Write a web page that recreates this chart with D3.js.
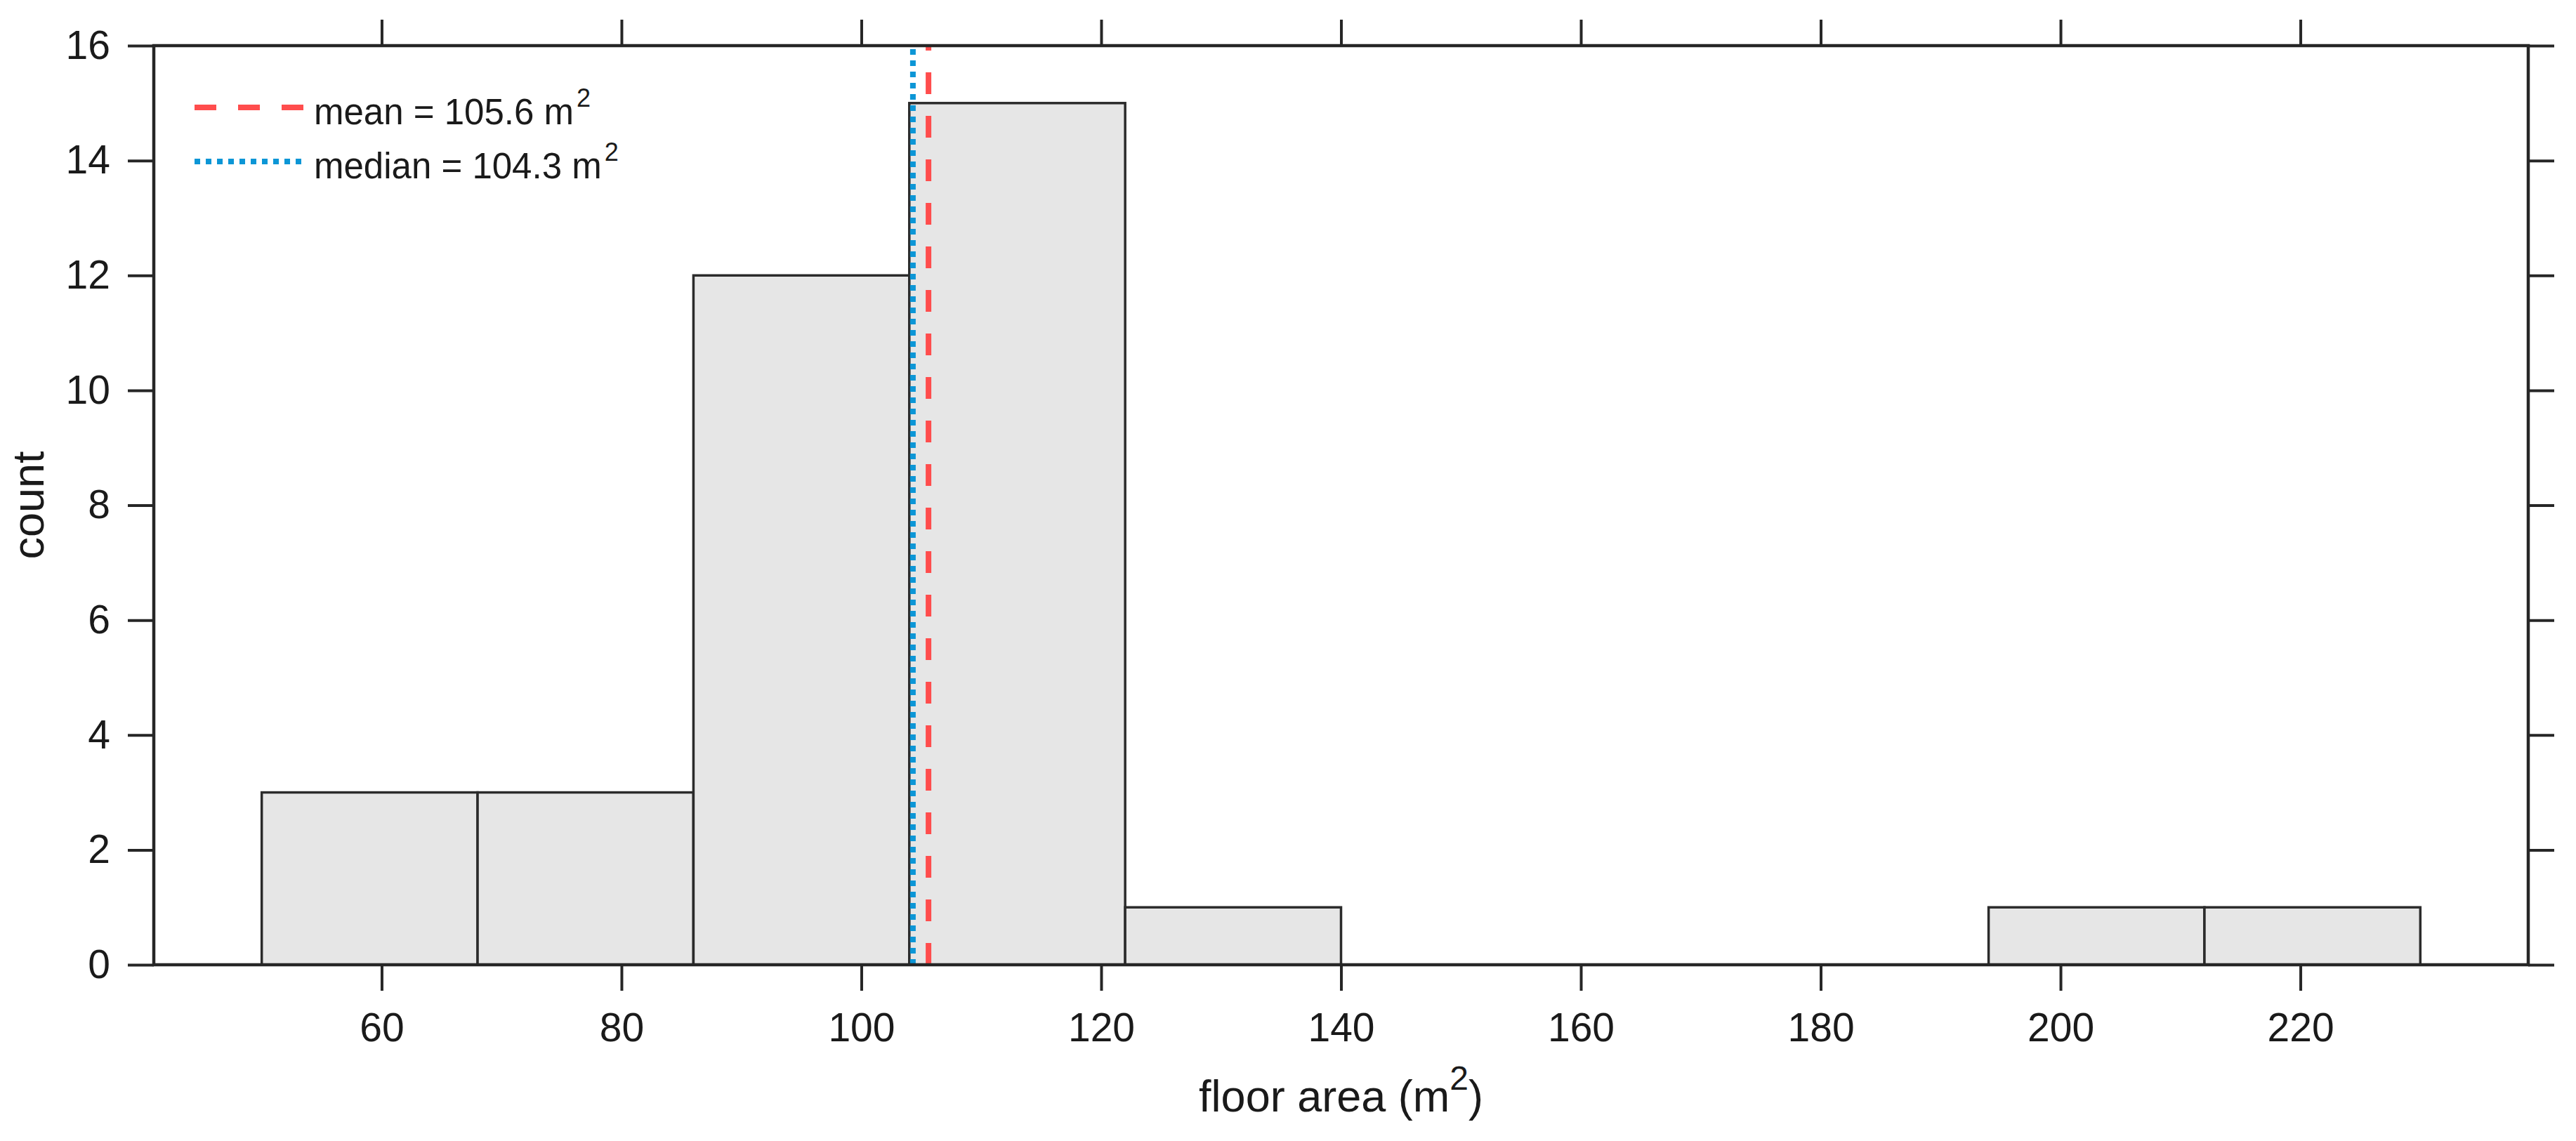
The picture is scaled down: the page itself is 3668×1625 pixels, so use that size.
<!DOCTYPE html>
<html>
<head>
<meta charset="utf-8">
<script src="https://cdn.jsdelivr.net/npm/d3@7"></script>
<style>
  body { margin: 0; background: #fff; }
  text { font-family: "Liberation Sans", Arial, sans-serif; fill: #1a1a1a; }
</style>
</head>
<body>
<div id="chart"></div>
<script>
// histogram bins (floor area, m^2) and counts
var binEdges = [50, 68, 86, 104, 122, 140, 158, 176, 194, 212, 230];
var counts = [3, 3, 12, 15, 1, 0, 0, 0, 1, 1];
var xTicks = [60, 80, 100, 120, 140, 160, 180, 200, 220];
var yTicks = [0, 2, 4, 6, 8, 10, 12, 14, 16];
var refLines = [
    {name: "mean", value: 105.6, color: "#ff4d4d", dash: "31,31"},
    {name: "median", value: 104.3, color: "#0c96d6", dash: "8,8"}
];

var width = 3668, height = 1625;
var margin = {top: 65, right: 68, bottom: 251, left: 219};
var axisColor = "#262626";

var svg = d3.select("#chart").append("svg")
    .attr("width", width)
    .attr("height", height);

var x = d3.scaleLinear()
    .domain([41, 239])
    .range([margin.left, width - margin.right]);

var y = d3.scaleLinear()
    .domain([0, 16])
    .range([height - margin.bottom, margin.top]);

var bins = counts.map(function(c, i) {
    return {x0: binEdges[i], x1: binEdges[i + 1], count: c};
});

// bars
svg.append("g").selectAll("rect")
    .data(bins.filter(function(d) { return d.count > 0; }))
    .enter().append("rect")
    .attr("x", function(d) { return x(d.x0); })
    .attr("y", function(d) { return y(d.count); })
    .attr("width", function(d) { return x(d.x1) - x(d.x0); })
    .attr("height", function(d) { return y(0) - y(d.count); })
    .style("fill", "#e6e6e6")
    .style("stroke", "#2b2b2b")
    .style("stroke-width", 3.5);

// mean / median lines
svg.append("g").selectAll("line")
    .data(refLines)
    .enter().append("line")
    .attr("x1", function(d) { return x(d.value); })
    .attr("x2", function(d) { return x(d.value); })
    .attr("y1", y(0))
    .attr("y2", y(16))
    .style("stroke", function(d) { return d.color; })
    .style("stroke-width", 8)
    .style("stroke-dasharray", function(d) { return d.dash; });

// axes
function styleAxis(g) {
    g.select(".domain").remove();
    g.selectAll(".tick line").style("stroke", axisColor).style("stroke-width", 4);
    g.selectAll(".tick text").style("font-size", "57px").style("fill", "#1a1a1a")
        .style("font-family", "'Liberation Sans', Arial, sans-serif");
}

svg.append("g")
    .attr("transform", "translate(0," + y(0) + ")")
    .call(d3.axisBottom(x).tickValues(xTicks).tickSize(37).tickPadding(32).tickSizeOuter(0))
    .call(styleAxis);

svg.append("g")
    .attr("transform", "translate(0," + y(16) + ")")
    .call(d3.axisTop(x).tickValues(xTicks).tickSize(37).tickFormat("").tickSizeOuter(0))
    .call(styleAxis);

svg.append("g")
    .attr("transform", "translate(" + x(41) + ",0)")
    .call(d3.axisLeft(y).tickValues(yTicks).tickSize(37).tickPadding(25).tickSizeOuter(0))
    .call(styleAxis);

svg.append("g")
    .attr("transform", "translate(" + x(239) + ",0)")
    .call(d3.axisRight(y).tickValues(yTicks).tickSize(37).tickFormat("").tickSizeOuter(0))
    .call(styleAxis);

// panel frame
svg.append("rect")
    .attr("x", x(41))
    .attr("y", y(16))
    .attr("width", x(239) - x(41))
    .attr("height", y(0) - y(16))
    .style("fill", "none")
    .style("stroke", axisColor)
    .style("stroke-width", 4.5);

// legend
var legend = svg.append("g").selectAll("g")
    .data(refLines)
    .enter().append("g")
    .attr("transform", function(d, i) { return "translate(277," + (153 + i * 77) + ")"; });

legend.append("line")
    .attr("x1", 0)
    .attr("x2", function(d) { return d.name === "mean" ? 159 : 152; })
    .style("stroke", function(d) { return d.color; })
    .style("stroke-width", 8)
    .style("stroke-dasharray", function(d) { return d.dash; });

var legendText = legend.append("text")
    .attr("x", 170)
    .attr("y", 24)
    .style("font-size", "51px");
legendText.append("tspan")
    .text(function(d) { return d.name + " = " + d.value.toFixed(1) + " m"; });
legendText.append("tspan")
    .attr("dx", 4)
    .attr("dy", -25)
    .style("font-size", "36px")
    .text("2");

// axis labels
var xlab = svg.append("text")
    .attr("x", (x(41) + x(239)) / 2)
    .attr("y", 1583)
    .attr("text-anchor", "middle")
    .style("font-size", "63px");
xlab.append("tspan").text("floor area (m");
xlab.append("tspan").attr("dy", -31).style("font-size", "48px").text("2");
xlab.append("tspan").attr("dy", 31).text(")");

svg.append("text")
    .attr("transform", "translate(62," + (y(0) + y(16)) / 2 + ") rotate(-90)")
    .attr("text-anchor", "middle")
    .style("font-size", "63px")
    .text("count");
</script>
</body>
</html>
